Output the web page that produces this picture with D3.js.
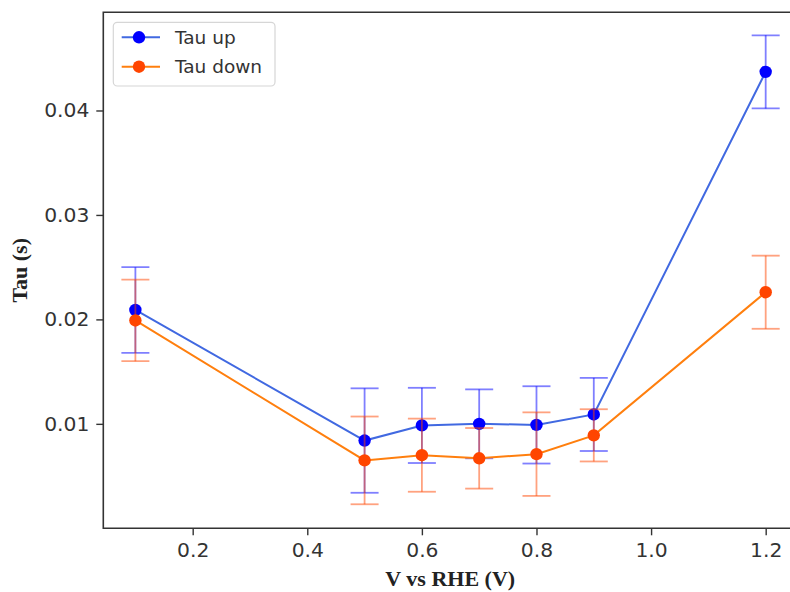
<!DOCTYPE html>
<html>
<head>
<meta charset="utf-8">
<script src="https://cdn.jsdelivr.net/npm/d3@7"></script>
<style>
  body { margin: 0; background: #fff; }
  svg { display: block; }
</style>
</head>
<body>
<svg id="chart"></svg>
<script>
const voltages = [0.1, 0.5, 0.6, 0.7, 0.8, 0.9, 1.2];
const tauUp = [0.0209, 0.0084, 0.00985, 0.0100, 0.0099, 0.0109, 0.0437];
const tauUpErr = [0.0041, 0.0050, 0.0036, 0.0033, 0.0037, 0.0035, 0.0035];
const tauDown = [0.0199, 0.0065, 0.0070, 0.0067, 0.0071, 0.0089, 0.0226];
const tauDownErr = [0.0039, 0.0042, 0.0035, 0.0029, 0.0040, 0.0025, 0.0035];
const xTicks = [0.2, 0.4, 0.6, 0.8, 1.0, 1.2];
const yTicks = [0.01, 0.02, 0.03, 0.04];

const width = 790;
const height = 592;
const plotLeft = 103.3, plotRight = 797.2, plotTop = 12.3, plotBottom = 528.3;

const svg = d3.select('#chart')
  .attr('width', width)
  .attr('height', height);

const x = d3.scaleLinear().domain([0.044, 1.255]).range([plotLeft, plotRight]);
const y = d3.scaleLinear().domain([0, 0.0494]).range([plotBottom, plotTop]);

svg.append('defs').append('clipPath')
  .attr('id', 'plot-clip')
  .append('rect')
  .attr('x', plotLeft).attr('y', plotTop)
  .attr('width', plotRight - plotLeft).attr('height', plotBottom - plotTop);

const series = [
  { name: 'Tau up', values: tauUp, errs: tauUpErr, line: '#4169e1', marker: '#0000ff', err: 'rgba(0,0,255,0.5)' },
  { name: 'Tau down', values: tauDown, errs: tauDownErr, line: '#ff7f0e', marker: '#ff4500', err: 'rgba(255,69,0,0.5)' }
];

const plot = svg.append('g').attr('clip-path', 'url(#plot-clip)');

const line = d3.line()
  .x(d => x(d.v))
  .y(d => y(d.t));

series.forEach(s => {
  const pts = voltages.map((v, i) => ({ v, t: s.values[i], e: s.errs[i] }));

  plot.append('path')
    .datum(pts)
    .attr('d', line)
    .attr('fill', 'none')
    .attr('stroke', s.line)
    .attr('stroke-width', 2);

  const bars = plot.append('g')
    .attr('stroke', s.err)
    .attr('stroke-width', 1.8)
    .selectAll('g')
    .data(pts)
    .enter()
    .append('g');

  bars.append('line')
    .attr('x1', d => x(d.v)).attr('x2', d => x(d.v))
    .attr('y1', d => y(d.t - d.e)).attr('y2', d => y(d.t + d.e));

  [-1, 1].forEach(sign => {
    bars.append('line')
      .attr('x1', d => x(d.v) - 14).attr('x2', d => x(d.v) + 14)
      .attr('y1', d => y(d.t + sign * d.e)).attr('y2', d => y(d.t + sign * d.e));
  });

  plot.append('g')
    .selectAll('circle')
    .data(pts)
    .enter()
    .append('circle')
    .attr('cx', d => x(d.v))
    .attr('cy', d => y(d.t))
    .attr('r', 6.2)
    .attr('fill', s.marker);
});

// axes
const xAxis = svg.append('g')
  .attr('transform', `translate(0,${plotBottom})`)
  .call(d3.axisBottom(x).tickValues(xTicks).tickFormat(d3.format('.1f')).tickSizeOuter(0).tickSize(7).tickPadding(7));

const yAxis = svg.append('g')
  .attr('transform', `translate(${plotLeft},0)`)
  .call(d3.axisLeft(y).tickValues(yTicks).tickFormat(d3.format('.2f')).tickSizeOuter(0).tickSize(7).tickPadding(7));

[xAxis, yAxis].forEach(a => {
  a.select('.domain').remove();
  a.selectAll('line').attr('stroke', '#333').attr('stroke-width', 1.4);
  a.selectAll('text')
    .attr('fill', '#333')
    .style('font-family', '"DejaVu Sans", sans-serif')
    .style('font-size', '20.3px');
});

// spines
svg.append('path')
  .attr('d', `M${plotRight},${plotTop}H${plotLeft}V${plotBottom}H${plotRight}`)
  .attr('fill', 'none')
  .attr('stroke', '#333')
  .attr('stroke-width', 1.6);

svg.append('text')
  .attr('x', (plotLeft + plotRight) / 2)
  .attr('y', 586)
  .attr('text-anchor', 'middle')
  .style('font-family', '"Liberation Serif", "Times New Roman", serif')
  .style('font-weight', 'bold')
  .style('font-size', '22px')
  .attr('fill', '#222')
  .text('V vs RHE (V)');

svg.append('text')
  .attr('transform', `translate(27,${(plotTop + plotBottom) / 2}) rotate(-90)`)
  .attr('text-anchor', 'middle')
  .style('font-family', '"Liberation Serif", "Times New Roman", serif')
  .style('font-weight', 'bold')
  .style('font-size', '22px')
  .attr('fill', '#222')
  .text('Tau (s)');

// legend
const legend = svg.append('g');

legend.append('rect')
  .attr('x', 113.3).attr('y', 22.3)
  .attr('width', 161.7).attr('height', 63.7)
  .attr('rx', 4)
  .attr('fill', 'rgba(255,255,255,0.8)')
  .attr('stroke', '#d6d6d6')
  .attr('stroke-width', 1.2);

const items = legend.selectAll('.item')
  .data(series)
  .enter()
  .append('g')
  .attr('class', 'item')
  .attr('transform', (d, i) => `translate(0,${37.3 + i * 29.4})`);

items.append('line')
  .attr('x1', 121.7).attr('x2', 160)
  .attr('stroke', d => d.line)
  .attr('stroke-width', 2);

items.append('circle')
  .attr('cx', 139)
  .attr('r', 6.2)
  .attr('fill', d => d.marker);

items.append('text')
  .attr('x', 175)
  .attr('dy', '0.36em')
  .style('font-family', '"DejaVu Sans", sans-serif')
  .style('font-size', '18.5px')
  .attr('fill', '#333')
  .text(d => d.name);
</script>
</body>
</html>
